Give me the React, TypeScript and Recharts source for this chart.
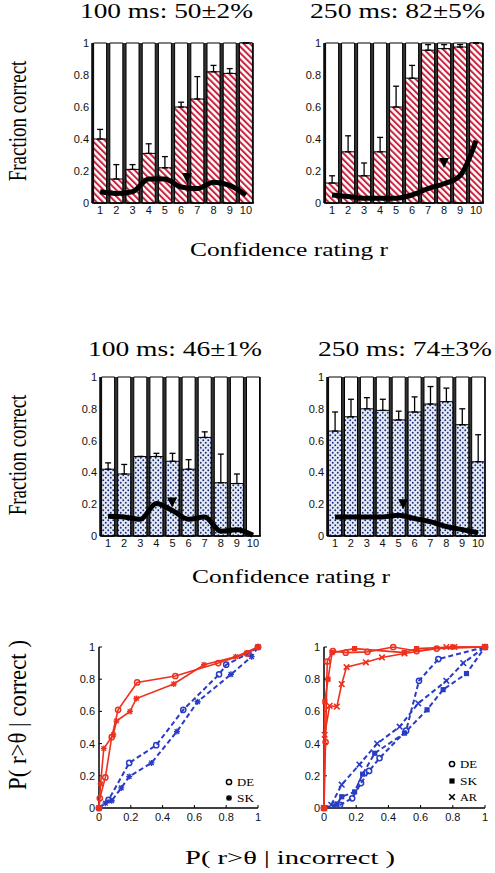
import React from "react";
import {
  ComposedChart,
  Bar,
  Line,
  Scatter,
  XAxis,
  YAxis,
  CartesianGrid,
  ErrorBar,
} from "recharts";

const RATINGS = ["1", "2", "3", "4", "5", "6", "7", "8", "9", "10"];
const UNIT_TICKS = [0, 0.2, 0.4, 0.6, 0.8, 1];

// row 1 (striped): fraction correct per confidence rating, upward error, thick curve
const A100_CORRECT = [0.4, 0.15, 0.21, 0.31, 0.22, 0.6, 0.65, 0.82, 0.81, 1.0];
const A100_ERR = [0.06, 0.09, 0.03, 0.06, 0.07, 0.03, 0.14, 0.04, 0.03, 0];
const A100_CURVE = [0.07, 0.06, 0.07, 0.15, 0.15, 0.1, 0.09, 0.13, 0.11, 0.05];
const A100_MEAN = { x: 6.36, y: 0.157 };

const A250_CORRECT = [0.125, 0.32, 0.17, 0.32, 0.6, 0.78, 0.955, 0.965, 0.975, 1.0];
const A250_ERR = [0.045, 0.1, 0.08, 0.09, 0.13, 0.08, 0.035, 0.025, 0.015, 0];
const A250_CURVE = [0.05, 0.04, 0.03, 0.03, 0.03, 0.05, 0.09, 0.12, 0.17, 0.39];
const A250_MEAN = { x: 8.0, y: 0.25 };

// row 2 (dotted)
const B100_CORRECT = [0.42, 0.39, 0.5, 0.5, 0.47, 0.42, 0.62, 0.335, 0.33, 0];
const B100_ERR = [0.04, 0.06, 0, 0.02, 0.05, 0.06, 0.035, 0.18, 0.06, 0];
const B100_CURVE = [0.125, 0.12, 0.105, 0.205, 0.16, 0.105, 0.12, 0.03, 0.04, 0.005];
const B100_MEAN = { x: 4.98, y: 0.21 };

const B250_CORRECT = [0.66, 0.75, 0.8, 0.79, 0.73, 0.78, 0.83, 0.845, 0.7, 0.467];
const B250_ERR = [0.12, 0.11, 0.07, 0.07, 0.055, 0.095, 0.11, 0.085, 0.1, 0.17];
const B250_CURVE = [0.12, 0.12, 0.12, 0.12, 0.13, 0.11, 0.09, 0.06, 0.04, 0.02];
const B250_MEAN = { x: 5.29, y: 0.2 };

// row 3: ROC points [P(r>θ|incorrect), P(r>θ|correct)]
const ROC100_RED_DE = [[0, 0], [0.005, 0.06], [0.04, 0.19], [0.08, 0.44], [0.12, 0.61], [0.24, 0.78], [0.48, 0.82], [0.75, 0.9], [0.93, 0.96], [1, 1]];
const ROC100_RED_SK = [[0, 0], [0.01, 0.15], [0.03, 0.37], [0.09, 0.455], [0.11, 0.54], [0.195, 0.6], [0.235, 0.68], [0.47, 0.77], [0.66, 0.89], [0.86, 0.94], [1, 1]];
const ROC100_BLUE_DE = [[0, 0], [0.06, 0.05], [0.19, 0.28], [0.36, 0.39], [0.53, 0.61], [0.755, 0.83], [0.8, 0.89], [0.94, 0.96], [1, 1]];
const ROC100_BLUE_SK = [[0, 0], [0.04, 0.03], [0.08, 0.045], [0.14, 0.125], [0.19, 0.195], [0.33, 0.28], [0.49, 0.475], [0.62, 0.66], [0.83, 0.83], [0.96, 0.94], [1, 1]];

const ROC250_RED_DE = [[0, 0], [0.01, 0.41], [0.02, 0.91], [0.055, 0.975], [0.135, 0.965], [0.27, 0.97], [0.43, 1.0], [0.575, 0.975], [0.7, 0.99], [1, 1]];
const ROC250_RED_SK = [[0, 0], [0.005, 0.66], [0.025, 0.8], [0.05, 0.965], [0.19, 0.99], [0.5, 0.965], [0.575, 0.99], [0.8, 1.0], [1, 1]];
const ROC250_RED_AR = [[0, 0], [0.004, 0.455], [0.035, 0.635], [0.08, 0.63], [0.11, 0.77], [0.14, 0.875], [0.26, 0.905], [0.36, 0.935], [0.5, 0.96], [0.76, 1.0], [0.81, 1.0], [1, 1]];
const ROC250_BLUE_DE = [[0, 0], [0.1, 0.02], [0.175, 0.06], [0.23, 0.155], [0.28, 0.23], [0.345, 0.31], [0.51, 0.48], [0.59, 0.79], [0.71, 0.925], [1, 1]];
const ROC250_BLUE_SK = [[0, 0], [0.08, 0.025], [0.11, 0.07], [0.19, 0.1], [0.24, 0.21], [0.315, 0.34], [0.5, 0.465], [0.64, 0.61], [0.74, 0.735], [0.885, 0.835], [1, 1]];
const ROC250_BLUE_AR = [[0, 0], [0.045, 0.02], [0.11, 0.145], [0.22, 0.27], [0.33, 0.4], [0.47, 0.505], [0.585, 0.65], [0.76, 0.79], [0.865, 0.9], [1, 1]];

const RED = "#ee301e";
const BLUE = "#2a3cc6";
const SANS = "'Liberation Sans', Arial, sans-serif";
const SERIF = "'Liberation Serif', 'Times New Roman', serif";
const tickStyle = { fontSize: 11, fill: "#111", fontFamily: SANS };
const frameLine = { stroke: "#000", strokeWidth: 1.5 };

function Glyph({ kind, color, x, y }: { kind: string; color: string; x: number; y: number }) {
  if (kind === "o")
    return <circle cx={x} cy={y} r={2.6} fill="none" stroke={color} strokeWidth={1.5} />;
  if (kind === "sq")
    return <rect x={x - 2.6} y={y - 2.6} width={5.2} height={5.2} fill={color} />;
  if (kind === "star")
    return (
      <path
        d={`M${x - 3},${y}H${x + 3}M${x},${y - 3}V${y + 3}M${x - 2.3},${y - 2.3}L${x + 2.3},${y + 2.3}M${x - 2.3},${y + 2.3}L${x + 2.3},${y - 2.3}`}
        stroke={color}
        strokeWidth={1.3}
        fill="none"
      />
    );
  return (
    <path
      d={`M${x - 2.8},${y - 2.8}L${x + 2.8},${y + 2.8}M${x - 2.8},${y + 2.8}L${x + 2.8},${y - 2.8}`}
      stroke={color}
      strokeWidth={1.6}
      fill="none"
    />
  );
}

const marker = (kind: string, color: string) => (p: any) => {
  if (p.cx == null || p.cy == null) return <g />;
  return <Glyph kind={kind} color={color} x={p.cx} y={p.cy} />;
};

const meanTriangle = (p: any) => {
  if (p.cx == null || p.cy == null) return <g />;
  const { cx, cy } = p;
  return <path d={`M${cx - 5},${cy - 5}L${cx + 5},${cy - 5}L${cx},${cy + 5}Z`} fill="#000" />;
};

function Patterns({ id }: { id: string }) {
  return (
    <defs>
      <pattern id={`${id}-stripes`} width="4.5" height="4.5" patternUnits="userSpaceOnUse" patternTransform="rotate(-45)">
        <rect width="4.5" height="4.5" fill="#fff" />
        <rect width="2" height="4.5" fill="#c8233f" />
      </pattern>
      <pattern id={`${id}-dots`} width="5" height="5" patternUnits="userSpaceOnUse">
        <rect width="5" height="5" fill="#e3eaf6" />
        <circle cx="1.25" cy="1.25" r="0.95" fill="#1c2a78" />
        <circle cx="3.75" cy="3.75" r="0.95" fill="#1c2a78" />
      </pattern>
    </defs>
  );
}

type BarPanelProps = {
  id: string;
  left: number;
  top: number;
  width: number;
  height: number;
  correct: number[];
  err: number[];
  curve: number[];
  mean: { x: number; y: number };
  pattern: "stripes" | "dots";
};

function BarPanel({ id, left, top, width, height, correct, err, curve, mean, pattern }: BarPanelProps) {
  const rows = RATINGS.map((r, i) => ({ r, full: 1, frac: correct[i], err: [0, err[i]], curve: curve[i] }));
  return (
    <div style={{ position: "absolute", left, top }}>
      <ComposedChart
        width={width}
        height={height}
        data={rows}
        margin={{ top: 8, right: 7, bottom: 0, left: 0 }}
        barCategoryGap="10%"
      >
        <Patterns id={id} />
        <CartesianGrid fill="#333" stroke="none" horizontal={false} vertical={false} />
        <Bar xAxisId="bg" dataKey="full" fill="#fff" stroke="#000" strokeWidth={1} isAnimationActive={false} />
        <Bar
          dataKey="frac"
          fill={`url(#${id}-${pattern})`}
          stroke="#000"
          strokeWidth={1}
          isAnimationActive={false}
        >
          <ErrorBar dataKey="err" width={3} stroke="#000" strokeWidth={1.3} direction="y" />
        </Bar>
        <Line dataKey="curve" type="monotone" stroke="#000" strokeWidth={5} dot={false} isAnimationActive={false} />
        <Scatter xAxisId="num" data={[mean]} dataKey="y" shape={meanTriangle} isAnimationActive={false} />
        <XAxis
          dataKey="r"
          height={22}
          interval={0}
          tickLine={false}
          tickSize={0}
          tickMargin={3}
          axisLine={frameLine}
          tick={tickStyle}
        />
        <XAxis xAxisId="bg" dataKey="r" hide />
        <XAxis xAxisId="num" type="number" dataKey="x" domain={[0.5, 10.5]} hide />
        <XAxis xAxisId="top" orientation="top" height={0} tick={false} tickLine={false} axisLine={{ stroke: "#000", strokeWidth: 2 }} />
        <YAxis
          domain={[0, 1]}
          ticks={UNIT_TICKS}
          width={43}
          tickLine={false}
          tickSize={0}
          tickMargin={3}
          axisLine={frameLine}
          tick={tickStyle}
        />
        <YAxis
          yAxisId="right"
          orientation="right"
          domain={[0, 1]}
          ticks={UNIT_TICKS}
          width={0}
          mirror
          tick={false}
          tickSize={3}
          tickLine={{ stroke: "#000" }}
          axisLine={frameLine}
        />
      </ComposedChart>
    </div>
  );
}

type Series = { pts: number[][]; color: string; kind: string; dash?: string; w: number };

function RocPanel({ left, top, width, height, series }: { left: number; top: number; width: number; height: number; series: Series[] }) {
  return (
    <div style={{ position: "absolute", left, top }}>
      <ComposedChart width={width} height={height} margin={{ top: 8, right: 7, bottom: 0, left: 0 }}>
        {series.map((s, i) => (
          <Scatter
            key={i}
            data={s.pts.map(([x, y]) => ({ x, y }))}
            fill={s.color}
            line={{ stroke: s.color, strokeWidth: s.w, strokeDasharray: s.dash }}
            lineType="joint"
            shape={marker(s.kind, s.color)}
            isAnimationActive={false}
          />
        ))}
        <XAxis
          type="number"
          dataKey="x"
          domain={[0, 1]}
          ticks={UNIT_TICKS}
          height={22}
          tickSize={-3}
          tickMargin={8}
          tickLine={{ stroke: "#000" }}
          axisLine={frameLine}
          tick={tickStyle}
        />
        <XAxis
          xAxisId="top"
          orientation="top"
          type="number"
          domain={[0, 1]}
          ticks={UNIT_TICKS}
          height={0}
          mirror
          tick={false}
          tickSize={3}
          tickLine={{ stroke: "#000" }}
          axisLine={frameLine}
        />
        <YAxis
          type="number"
          dataKey="y"
          domain={[0, 1]}
          ticks={UNIT_TICKS}
          width={43}
          tickSize={-3}
          tickMargin={7}
          tickLine={{ stroke: "#000" }}
          axisLine={frameLine}
          tick={tickStyle}
        />
        <YAxis
          yAxisId="right"
          orientation="right"
          domain={[0, 1]}
          ticks={UNIT_TICKS}
          width={0}
          mirror
          tick={false}
          tickSize={3}
          tickLine={{ stroke: "#000" }}
          axisLine={frameLine}
        />
      </ComposedChart>
    </div>
  );
}

const ROC_100: Series[] = [
  { pts: ROC100_BLUE_DE, color: BLUE, kind: "o", dash: "5 3", w: 2 },
  { pts: ROC100_BLUE_SK, color: BLUE, kind: "star", dash: "5 3", w: 2 },
  { pts: ROC100_RED_DE, color: RED, kind: "o", w: 1.6 },
  { pts: ROC100_RED_SK, color: RED, kind: "star", w: 1.6 },
];

const ROC_250: Series[] = [
  { pts: ROC250_BLUE_DE, color: BLUE, kind: "o", dash: "5 3", w: 2 },
  { pts: ROC250_BLUE_SK, color: BLUE, kind: "sq", dash: "5 3", w: 2 },
  { pts: ROC250_BLUE_AR, color: BLUE, kind: "x", dash: "5 3", w: 2 },
  { pts: ROC250_RED_DE, color: RED, kind: "o", w: 1.6 },
  { pts: ROC250_RED_SK, color: RED, kind: "sq", w: 1.6 },
  { pts: ROC250_RED_AR, color: RED, kind: "x", w: 1.6 },
];

function Title({ x, y, len, children }: { x: number; y: number; len: number; children: string }) {
  return (
    <text x={x} y={y} fontFamily={SERIF} fontSize={21} textLength={len} lengthAdjust="spacingAndGlyphs" fill="#000">
      {children}
    </text>
  );
}

function XLabel({ x, y, len, children }: { x: number; y: number; len: number; children: string }) {
  return (
    <text x={x} y={y} fontFamily={SERIF} fontSize={19} textLength={len} lengthAdjust="spacingAndGlyphs" fill="#000">
      {children}
    </text>
  );
}

function YLabel({ cy, len, children }: { cy: number; len?: number; children: string }) {
  return (
    <text
      transform={`translate(26,${cy}) rotate(-90) scale(1,1.3)`}
      textAnchor="middle"
      fontFamily={SERIF}
      fontSize={19}
      textLength={len}
      lengthAdjust={len ? "spacingAndGlyphs" : undefined}
      fill="#000"
    >
      {children}
    </text>
  );
}

function LegendItem({ x, y, kind, label }: { x: number; y: number; kind: string; label: string }) {
  return (
    <g>
      <Glyph kind={kind} color="#000" x={x} y={y} />
      <text x={x + 8} y={y + 4} fontFamily={SERIF} fontSize={11} textLength={17} lengthAdjust="spacingAndGlyphs" fill="#000">
        {label}
      </text>
    </g>
  );
}

export default function App() {
  return (
    <div style={{ position: "absolute", left: 0, top: 0, width: 495, height: 873, background: "#fff" }}>
      <BarPanel id="a100" left={49} top={35} width={212} height={190} correct={A100_CORRECT} err={A100_ERR} curve={A100_CURVE} mean={A100_MEAN} pattern="stripes" />
      <BarPanel id="a250" left={281} top={35} width={210} height={190} correct={A250_CORRECT} err={A250_ERR} curve={A250_CURVE} mean={A250_MEAN} pattern="stripes" />
      <BarPanel id="b100" left={57} top={369} width={211} height={189} correct={B100_CORRECT} err={B100_ERR} curve={B100_CURVE} mean={B100_MEAN} pattern="dots" />
      <BarPanel id="b250" left={284} top={369} width={209} height={189} correct={B250_CORRECT} err={B250_ERR} curve={B250_CURVE} mean={B250_MEAN} pattern="dots" />
      <RocPanel left={56} top={639} width={209} height={191} series={ROC_100} />
      <RocPanel left={281} top={639} width={211} height={191} series={ROC_250} />
      <svg width={495} height={873} style={{ position: "absolute", left: 0, top: 0, pointerEvents: "none" }}>
        <Title x={80} y={17.5} len={173}>100 ms: 50±2%</Title>
        <Title x={310} y={17.5} len={175}>250 ms: 82±5%</Title>
        <Title x={88} y={355.5} len={174}>100 ms: 46±1%</Title>
        <Title x={318} y={355.5} len={174}>250 ms: 74±3%</Title>
        <XLabel x={190} y={256} len={198}>Confidence rating r</XLabel>
        <XLabel x={192} y={583} len={198}>Confidence rating r</XLabel>
        <XLabel x={185} y={864} len={210}>P( r&gt;θ | incorrect )</XLabel>
        <YLabel cy={121}>Fraction correct</YLabel>
        <YLabel cy={455}>Fraction correct</YLabel>
        <YLabel cy={715} len={150}>P( r&gt;θ | correct )</YLabel>
        <LegendItem x={229} y={782} kind="o" label="DE" />
        <LegendItem x={229} y={798} kind="star" label="SK" />
        <LegendItem x={452} y={764} kind="o" label="DE" />
        <LegendItem x={452} y={781} kind="sq" label="SK" />
        <LegendItem x={452} y={797} kind="x" label="AR" />
      </svg>
    </div>
  );
}
